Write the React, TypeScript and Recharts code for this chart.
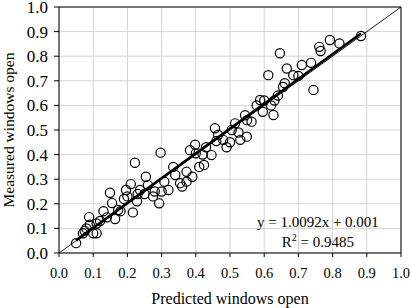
import React from 'react';
import {
  ScatterChart,
  Scatter,
  XAxis,
  YAxis,
  CartesianGrid,
  ReferenceLine,
  ReferenceDot,
  Label,
} from 'recharts';

// Predicted vs. measured fraction of windows open
const predicted = [
  0.05, 0.07, 0.075, 0.08, 0.088, 0.09, 0.1, 0.11, 0.11, 0.12,
  0.13, 0.14, 0.149, 0.155, 0.164, 0.173, 0.18, 0.19, 0.196, 0.21,
  0.2, 0.216, 0.222, 0.23, 0.228, 0.237, 0.254, 0.26, 0.25, 0.28,
  0.275, 0.293, 0.297, 0.3, 0.308, 0.32, 0.334, 0.34, 0.354, 0.36,
  0.373, 0.373, 0.383, 0.39, 0.398, 0.4, 0.41, 0.424, 0.42, 0.43,
  0.446, 0.456, 0.465, 0.46, 0.48, 0.49, 0.5, 0.505, 0.515, 0.525,
  0.53, 0.544, 0.549, 0.563, 0.55, 0.578, 0.588, 0.596, 0.6, 0.612,
  0.627, 0.62, 0.63, 0.646, 0.64, 0.655, 0.666, 0.66, 0.685, 0.7,
  0.71, 0.737, 0.744, 0.761, 0.765, 0.792, 0.82, 0.883,
];
const measured = [
  0.04, 0.08, 0.09, 0.1, 0.146, 0.115, 0.08, 0.08, 0.12, 0.13,
  0.17, 0.145, 0.245, 0.203, 0.138, 0.175, 0.17, 0.22, 0.256, 0.28,
  0.23, 0.165, 0.367, 0.24, 0.21, 0.256, 0.31, 0.276, 0.24, 0.25,
  0.23, 0.202, 0.408, 0.25, 0.29, 0.256, 0.35, 0.317, 0.284, 0.27,
  0.33, 0.29, 0.418, 0.31, 0.44, 0.405, 0.35, 0.358, 0.4, 0.43,
  0.398, 0.507, 0.48, 0.455, 0.46, 0.43, 0.45, 0.5, 0.527, 0.49,
  0.46, 0.56, 0.473, 0.534, 0.54, 0.6, 0.622, 0.574, 0.62, 0.723,
  0.561, 0.6, 0.62, 0.812, 0.64, 0.675, 0.75, 0.69, 0.723, 0.72,
  0.764, 0.773, 0.663, 0.838, 0.821, 0.866, 0.852, 0.882,
];

const axisTicks = [0, 0.1, 0.2, 0.3, 0.4, 0.5, 0.6, 0.7, 0.8, 0.9, 1.0];

// Linear fit and its reported statistics
const slope = 1.0092;
const intercept = 0.001;
const rSquared = 0.9485;
const fitStart = 0.05;
const fitEnd = 0.883;

const points = predicted.map((x, i) => ({ x, y: measured[i] }));
const fitSegment = [
  { x: fitStart, y: slope * fitStart + intercept },
  { x: fitEnd, y: slope * fitEnd + intercept },
];

const FONT = '"Liberation Serif", "Times New Roman", serif';
const fmt = (v: number) => Number(v).toFixed(1);

const HollowCircle = (p: any) => (
  <circle cx={p.cx} cy={p.cy} r={4.6} fill="none" stroke="#000" strokeWidth={1.2} />
);

const renderXTick = (p: any) => (
  <text
    key={`xt-${p.index}`}
    x={p.x}
    y={p.y + 19}
    textAnchor="middle"
    fill="#000"
    style={{ fontFamily: FONT, fontSize: '14.5px' }}
  >
    {fmt(p.payload.value)}
  </text>
);

const renderYTick = (p: any) => (
  <text
    key={`yt-${p.index}`}
    x={p.x - 4}
    y={p.y + 6}
    textAnchor="end"
    fill="#000"
    style={{ fontFamily: FONT, fontSize: '17px' }}
  >
    {fmt(p.payload.value)}
  </text>
);

const YTitle = (props: any) => {
  const vb = props.viewBox || {};
  const cy = vb.y + vb.height / 2;
  return (
    <text
      x={14}
      y={cy}
      transform={`rotate(-90 14 ${cy})`}
      textAnchor="middle"
      fill="#000"
      style={{ fontFamily: FONT, fontSize: '15.5px' }}
    >
      Measured windows open
    </text>
  );
};

const XTitle = (props: any) => {
  const vb = props.viewBox || {};
  const cx = vb.x + vb.width / 2;
  return (
    <text
      x={cx}
      y={304}
      textAnchor="middle"
      fill="#000"
      style={{ fontFamily: FONT, fontSize: '16px' }}
    >
      Predicted windows open
    </text>
  );
};

const EquationLabel = (props: any) => {
  const vb = props.viewBox || {};
  const cx = vb.x + (vb.width || 0) / 2;
  const cy = vb.y + (vb.height || 0) / 2;
  return (
    <g fill="#000" style={{ fontFamily: FONT, fontSize: '15px' }}>
      <text x={cx} y={cy + 5} textAnchor="middle">
        {`y = ${slope}x + ${intercept}`}
      </text>
      <text x={cx} y={cy + 25} textAnchor="middle">
        R<tspan dy={-6} style={{ fontSize: '10px' }}>2</tspan>
        <tspan dy={6}>{` = ${rSquared}`}</tspan>
      </text>
    </g>
  );
};

export default function App() {
  return (
    <div style={{ position: 'absolute', left: 0, top: 0, background: '#fff', fontFamily: FONT }}>
      <ScatterChart
        width={411}
        height={308}
        margin={{ top: 7, right: 10, bottom: 0, left: 0 }}
      >
        <CartesianGrid stroke="#d4d4d4" strokeWidth={1} />
        <XAxis
          type="number"
          dataKey="x"
          domain={[0, 1]}
          ticks={axisTicks}
          interval={0}
          height={55}
          tickSize={4}
          axisLine={{ stroke: '#000', strokeWidth: 1 }}
          tickLine={{ stroke: '#000' }}
          tick={renderXTick}
          allowDataOverflow
        >
          <Label content={XTitle} />
        </XAxis>
        <YAxis
          type="number"
          dataKey="y"
          domain={[0, 1]}
          ticks={axisTicks}
          interval={0}
          width={59}
          tickSize={5}
          axisLine={{ stroke: '#000', strokeWidth: 1 }}
          tickLine={{ stroke: '#000' }}
          tick={renderYTick}
          allowDataOverflow
        >
          <Label content={YTitle} />
        </YAxis>
        {/* plot frame */}
        <ReferenceLine y={1} stroke="#000" strokeWidth={1} />
        <ReferenceLine x={1} stroke="#000" strokeWidth={1} />
        {/* 1:1 line */}
        <ReferenceLine
          segment={[{ x: 0, y: 0 }, { x: 1, y: 1 }]}
          stroke="#000"
          strokeWidth={0.9}
        />
        {/* fitted regression line */}
        <ReferenceLine segment={fitSegment} stroke="#000" strokeWidth={2.6} />
        <Scatter data={points} shape={HollowCircle} isAnimationActive={false} />
        <ReferenceDot x={0.757} y={0.127} r={0} fill="none" stroke="none">
          <Label content={EquationLabel} />
        </ReferenceDot>
      </ScatterChart>
    </div>
  );
}
